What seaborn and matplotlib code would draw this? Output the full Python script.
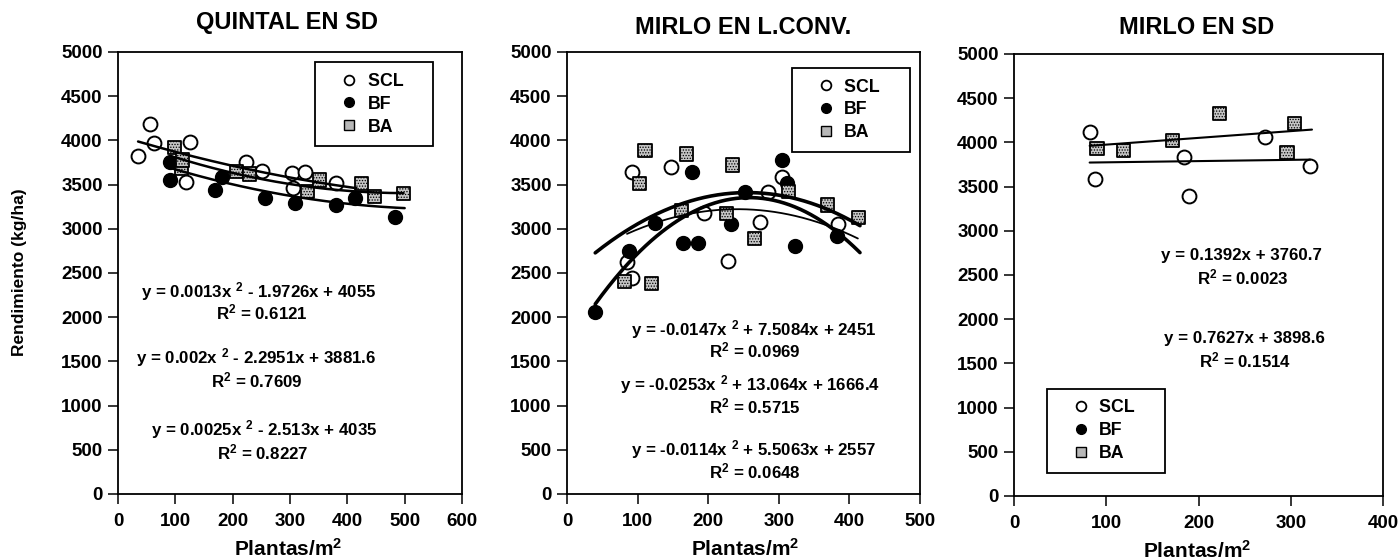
import numpy as np
import pandas as pd
import matplotlib
matplotlib.use("Agg")
import matplotlib.pyplot as plt
import seaborn as sns
from matplotlib.lines import Line2D

# ---------------- data ----------------
panel_titles = ["QUINTAL EN SD", "MIRLO EN L.CONV.", "MIRLO EN SD"]
series_names = ["SCL", "BF", "BA"]
x_label = "Plantas/m$^{2}$"
y_label = "Rendimiento (kg/ha)"

# QUINTAL EN SD
q_scl_x = [35, 55, 62, 119, 126, 223, 251, 303, 306, 326, 380]
q_scl_y = [3824, 4186, 3967, 3533, 3978, 3759, 3654, 3628, 3458, 3646, 3520]
q_bf_x = [91, 91, 169, 181, 257, 309, 381, 413, 483]
q_bf_y = [3760, 3552, 3439, 3590, 3345, 3290, 3265, 3345, 3137]
q_ba_x = [99, 111, 113, 207, 230, 331, 352, 425, 448, 498]
q_ba_y = [3922, 3684, 3778, 3646, 3620, 3420, 3552, 3515, 3363, 3401]
q_fit_coefs = [[0.0013, -1.9726, 4055], [0.002, -2.2951, 3881.6], [0.0025, -2.513, 4035]]
q_fit_range = [(35, 416), (91, 500), (99, 498)]
q_eq = ["y = 0.0013x $^{2}$ - 1.9726x + 4055", "y = 0.002x $^{2}$ - 2.2951x + 3881.6",
        "y = 0.0025x $^{2}$ - 2.513x + 4035"]
q_r2 = ["R$^{2}$ = 0.6121", "R$^{2}$ = 0.7609", "R$^{2}$ = 0.8227"]

# MIRLO EN L.CONV.
m_scl_x = [84.5, 91.6, 91.6, 148, 194, 228.5, 273, 285, 304, 384]
m_scl_y = [2628, 2440, 3639, 3703, 3175, 2639, 3080, 3420, 3590, 3054]
m_bf_x = [40, 88, 124, 164, 177, 186, 232, 252, 304, 311, 323, 382]
m_bf_y = [2062, 2753, 3069, 2843, 3646, 2843, 3054, 3420, 3775, 3514, 2805, 2919]
m_ba_x = [82, 103, 110.5, 120, 162, 169, 226, 235, 266, 314, 369, 413]
m_ba_y = [2402, 3514, 3884, 2383, 3205, 3846, 3175, 3722, 2892, 3420, 3269, 3130]
m_fit_coefs = [[-0.0147, 7.5084, 2451], [-0.0253, 13.064, 1666.4], [-0.0114, 5.5063, 2557]]
m_fit_range = [(40, 415), (40, 415), (85, 412)]
m_fit_lw = [2.6, 2.6, 1.3]
m_eq = ["y = -0.0147x $^{2}$ + 7.5084x + 2451", "y = -0.0253x $^{2}$ + 13.064x + 1666.4",
        "y = -0.0114x $^{2}$ + 5.5063x + 2557"]
m_r2 = ["R$^{2}$ = 0.0969", "R$^{2}$ = 0.5715", "R$^{2}$ = 0.0648"]

# MIRLO EN SD
s_scl_x = [82, 88, 184, 190, 272, 321]
s_scl_y = [4112, 3585, 3830, 3397, 4056, 3736]
s_ba_x = [90, 119, 172, 223, 296, 304]
s_ba_y = [3935, 3913, 4018, 4327, 3886, 4214]
s_fit_coefs = [[0.1392, 3760.7], [0.7627, 3898.6]]
s_fit_range = [(82, 321), (82, 323)]
s_eq = ["y = 0.1392x + 3760.7", "y = 0.7627x + 3898.6"]
s_r2 = ["R$^{2}$ = 0.0023", "R$^{2}$ = 0.1514"]

x_limits = [(0, 600), (0, 500), (0, 400)]
x_ticks = [[0, 100, 200, 300, 400, 500, 600], [0, 100, 200, 300, 400, 500], [0, 100, 200, 300, 400]]
y_ticks = [0, 500, 1000, 1500, 2000, 2500, 3000, 3500, 4000, 4500, 5000]

# ---------------- style ----------------
sns.set_theme(style="white")
plt.rcParams["font.family"] = ["Liberation Sans", "DejaVu Sans"]
plt.rcParams["font.weight"] = "bold"
plt.rcParams["axes.labelweight"] = "bold"
plt.rcParams["axes.titleweight"] = "bold"
plt.rcParams["text.color"] = "black"
plt.rcParams["axes.labelcolor"] = "black"
plt.rcParams["xtick.color"] = "black"
plt.rcParams["ytick.color"] = "black"
plt.rcParams["mathtext.fontset"] = "custom"
plt.rcParams["mathtext.rm"] = "Liberation Sans:bold"
plt.rcParams["mathtext.it"] = "Liberation Sans:bold"
plt.rcParams["mathtext.bf"] = "Liberation Sans:bold"
plt.rcParams["mathtext.default"] = "regular"
plt.rcParams["hatch.color"] = "#606060"
plt.rcParams["hatch.linewidth"] = 0.6

W, H = 1400, 560
fig = plt.figure(figsize=(14, 5.6), dpi=100)
ax_rects = [
    [118 / W, 1 - 494 / H, 344 / W, 442 / H],
    [567 / W, 1 - 494 / H, 353 / W, 442 / H],
    [1014 / W, 1 - 496 / H, 369 / W, 442 / H],
]
axes = [fig.add_axes(r) for r in ax_rects]

scl_kw = dict(marker="o", s=100, color="white", edgecolor="black", linewidth=1.4, zorder=3)
bf_kw = dict(marker="o", s=100, color="black", edgecolor="black", linewidth=1.0, zorder=3)
ba_kw = dict(marker="s", s=90, color="#c4c4c4", edgecolor="black", linewidth=1.3,
             hatch="......", zorder=3)


def draw_fit(ax, coefs, rng, lw):
    xs = np.linspace(rng[0], rng[1], 200)
    ys = np.polyval(coefs, xs)
    sns.lineplot(x=xs, y=ys, ax=ax, color="black", linewidth=lw, zorder=4)


def style_axis(ax, i):
    ax.set_xlim(*x_limits[i])
    ax.set_ylim(0, 5000)
    ax.set_xticks(x_ticks[i])
    ax.set_yticks(y_ticks)
    for sp in ax.spines.values():
        sp.set_visible(True)
        sp.set_color("black")
        sp.set_linewidth(1.3)
    ax.tick_params(axis="both", direction="out", length=7, width=1.1, color="black",
                   labelsize=13.5, labelcolor="black", bottom=True, left=True,
                   top=False, right=False)
    ax.tick_params(axis="x", pad=7)
    ax.tick_params(axis="y", pad=4)
    for lab in ax.get_xticklabels() + ax.get_yticklabels():
        lab.set_fontweight("bold")
    ax.set_xlabel("")
    ax.set_ylabel("")
    ax.grid(False)


def add_legend(ax, anchor, loc):
    handles = [
        Line2D([], [], ls="", marker="o", ms=7, mfc="white", mec="black", mew=1.3),
        Line2D([], [], ls="", marker="o", ms=7, mfc="black", mec="black"),
        Line2D([], [], ls="", marker="s", ms=7, mfc="#b8b8b8", mec="black", mew=1.0),
    ]
    leg = ax.legend(handles, ["SCL    ", "BF", "BA"], loc=loc, bbox_to_anchor=anchor,
                    frameon=True, fancybox=False, edgecolor="black", framealpha=1,
                    prop={"weight": "bold", "size": 12.8}, borderpad=0.6,
                    labelspacing=0.33, handlelength=2.6, handletextpad=-0.25,
                    borderaxespad=0)
    leg.get_frame().set_linewidth(1.3)
    for t in leg.get_texts():
        t.set_color("black")
    leg.set_zorder(10)


# Panel 1
ax = axes[0]
sns.scatterplot(x=q_scl_x, y=q_scl_y, ax=ax, **scl_kw)
sns.scatterplot(x=q_bf_x, y=q_bf_y, ax=ax, **bf_kw)
sns.scatterplot(x=q_ba_x, y=q_ba_y, ax=ax, **ba_kw)
for c, r in zip(q_fit_coefs, q_fit_range):
    draw_fit(ax, c, r, 1.8)
style_axis(ax, 0)
add_legend(ax, (0.573, 0.977), "upper left")

# Panel 2
ax = axes[1]
sns.scatterplot(x=m_scl_x, y=m_scl_y, ax=ax, **scl_kw)
sns.scatterplot(x=m_bf_x, y=m_bf_y, ax=ax, **bf_kw)
sns.scatterplot(x=m_ba_x, y=m_ba_y, ax=ax, **ba_kw)
for c, r, lw in zip(m_fit_coefs, m_fit_range, m_fit_lw):
    draw_fit(ax, c, r, lw)
style_axis(ax, 1)
add_legend(ax, (0.637, 0.964), "upper left")

# Panel 3
ax = axes[2]
sns.scatterplot(x=s_scl_x, y=s_scl_y, ax=ax, **scl_kw)
sns.scatterplot(x=s_ba_x, y=s_ba_y, ax=ax, **ba_kw)
for c, r in zip(s_fit_coefs, s_fit_range):
    draw_fit(ax, c, r, 1.5)
style_axis(ax, 2)
add_legend(ax, (0.089, 0.243), "upper left")


# Titles / axis labels (figure pixel positions)
def ftext(x, y, s, **kw):
    fig.text(x / W, 1 - y / H, s, ha="center", va="center", fontweight="bold",
             color="black", **kw)


ftext(287, 22, panel_titles[0], fontsize=17)
ftext(743, 28, panel_titles[1], fontsize=17)
ftext(1197, 28, panel_titles[2], fontsize=17)
ftext(288, 549, x_label, fontsize=15)
ftext(745, 549, x_label, fontsize=15)
ftext(1197, 551, x_label, fontsize=15)
ftext(20, 272, y_label, fontsize=12.5, rotation=90)

eq_fs = 12.2
# Panel 1 equations
for (ex, ey), (rx, ry), e, r in zip([(259, 292), (256, 358), (264, 430)],
                                    [(262, 312), (257, 380), (263, 452)], q_eq, q_r2):
    ftext(ex, ey, e, fontsize=eq_fs)
    ftext(rx, ry, r, fontsize=eq_fs)
# Panel 2 equations
for (ex, ey), (rx, ry), e, r in zip([(754, 330), (750, 385), (754, 450)],
                                    [(755, 350), (755, 406), (755, 471)], m_eq, m_r2):
    ftext(ex, ey, e, fontsize=eq_fs)
    ftext(rx, ry, r, fontsize=eq_fs)
# Panel 3 equations
for (ex, ey), (rx, ry), e, r in zip([(1241, 256), (1244, 338)],
                                    [(1243, 277), (1245, 360)], s_eq, s_r2):
    ftext(ex, ey, e, fontsize=eq_fs)
    ftext(rx, ry, r, fontsize=eq_fs)

fig.savefig("out.png", dpi=100, facecolor="white")
